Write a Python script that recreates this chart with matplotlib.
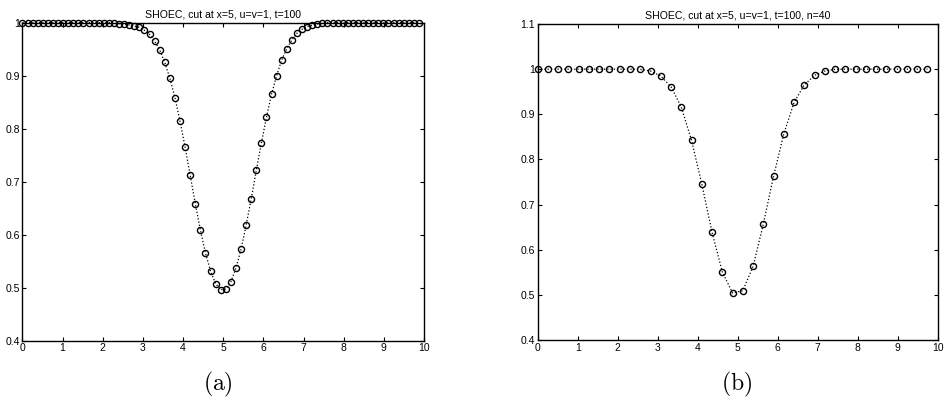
import matplotlib
matplotlib.use("Agg")
import matplotlib.pyplot as plt
import numpy as np

plt.rcParams["font.family"] = ["Liberation Sans", "DejaVu Sans"]
plt.rcParams["mathtext.fontset"] = "cm"

# panel (a): 80-point grid on [0, 10], last point hidden at the border
values_a = [
    1.0, 1.0, 1.0, 1.0, 1.0, 1.0, 1.0, 1.0, 1.0, 1.0,
    1.0, 1.0, 1.0, 1.0, 1.0, 1.0, 1.0, 1.0, 0.999, 0.998,
    0.9975, 0.9957, 0.9938, 0.991, 0.9856, 0.978, 0.9655, 0.9485, 0.925, 0.895,
    0.8585, 0.814, 0.765, 0.712, 0.6585, 0.609, 0.5655, 0.5315, 0.5075, 0.4963,
    0.4975, 0.5113, 0.5366, 0.5724, 0.6177, 0.6673, 0.7215, 0.773, 0.8215, 0.865,
    0.9, 0.9296, 0.951, 0.9674, 0.98, 0.9875, 0.9925, 0.995, 0.9975, 0.999,
    1.0, 1.0, 1.0, 1.0, 1.0, 1.0, 1.0, 1.0, 1.0, 1.0,
    1.0, 1.0, 1.0, 1.0, 1.0, 1.0, 1.0, 1.0, 1.0,
]
step_a = 10 / 79

# panel (b): n=40
values_b = [
    1.0, 1.0, 1.0, 1.0, 1.0, 1.0, 1.0, 1.0, 1.0, 1.0,
    0.9995, 0.9959, 0.9848, 0.961, 0.916, 0.8423, 0.7456, 0.6385, 0.5506, 0.504,
    0.5092, 0.5632, 0.657, 0.7633, 0.857, 0.9265, 0.9655, 0.9863, 0.9959, 0.9997,
    1.0, 1.0, 1.0, 1.0, 1.0, 1.0, 1.0, 1.0, 1.0,
]
step_b = 10 / 39

titles = ["SHOEC, cut at x=5, u=v=1, t=100", "SHOEC, cut at x=5, u=v=1, t=100, n=40"]
panel_labels = ["(a)", "(b)"]
ylims = [(0.4, 1.0), (0.4, 1.1)]
yticks = [[0.4, 0.5, 0.6, 0.7, 0.8, 0.9, 1.0], [0.4, 0.5, 0.6, 0.7, 0.8, 0.9, 1.0, 1.1]]
ytick_labels = [["0.4", "0.5", "0.6", "0.7", "0.8", "0.9", "1"],
                ["0.4", "0.5", "0.6", "0.7", "0.8", "0.9", "1", "1.1"]]
xticks = list(range(11))

fig = plt.figure(figsize=(9.52, 4.05), dpi=100)
rects = [[0.0236, 0.1588, 0.4218, 0.7852], [0.5648, 0.1605, 0.4202, 0.7802]]
series = [(values_a, step_a), (values_b, step_b)]
label_x = [0.229, 0.774]

for k in range(2):
    ax = fig.add_axes(rects[k])
    vals, step = series[k]
    x = np.arange(len(vals)) * step
    ax.plot(x, vals, color="black", linestyle=":", linewidth=0.9,
            marker="o", markersize=4.4, markerfacecolor="none",
            markeredgecolor="black", markeredgewidth=1.0, clip_on=False)
    ax.set_xlim(0, 10)
    ax.set_ylim(*ylims[k])
    ax.set_xticks(xticks)
    ax.set_xticklabels([str(t) for t in xticks])
    ax.set_yticks(yticks[k])
    ax.set_yticklabels(ytick_labels[k])
    ax.tick_params(direction="in", length=3, width=0.8, labelsize=7.5,
                   top=True, right=True, pad=2)
    for s in ax.spines.values():
        s.set_linewidth(1.0)
    ax.set_title(titles[k], fontsize=7.6, pad=4)
    fig.text(label_x[k], 0.05, r"$\mathrm{" + panel_labels[k] + "}$",
             fontsize=17, ha="center", va="center")

fig.savefig("out.png", dpi=100)
